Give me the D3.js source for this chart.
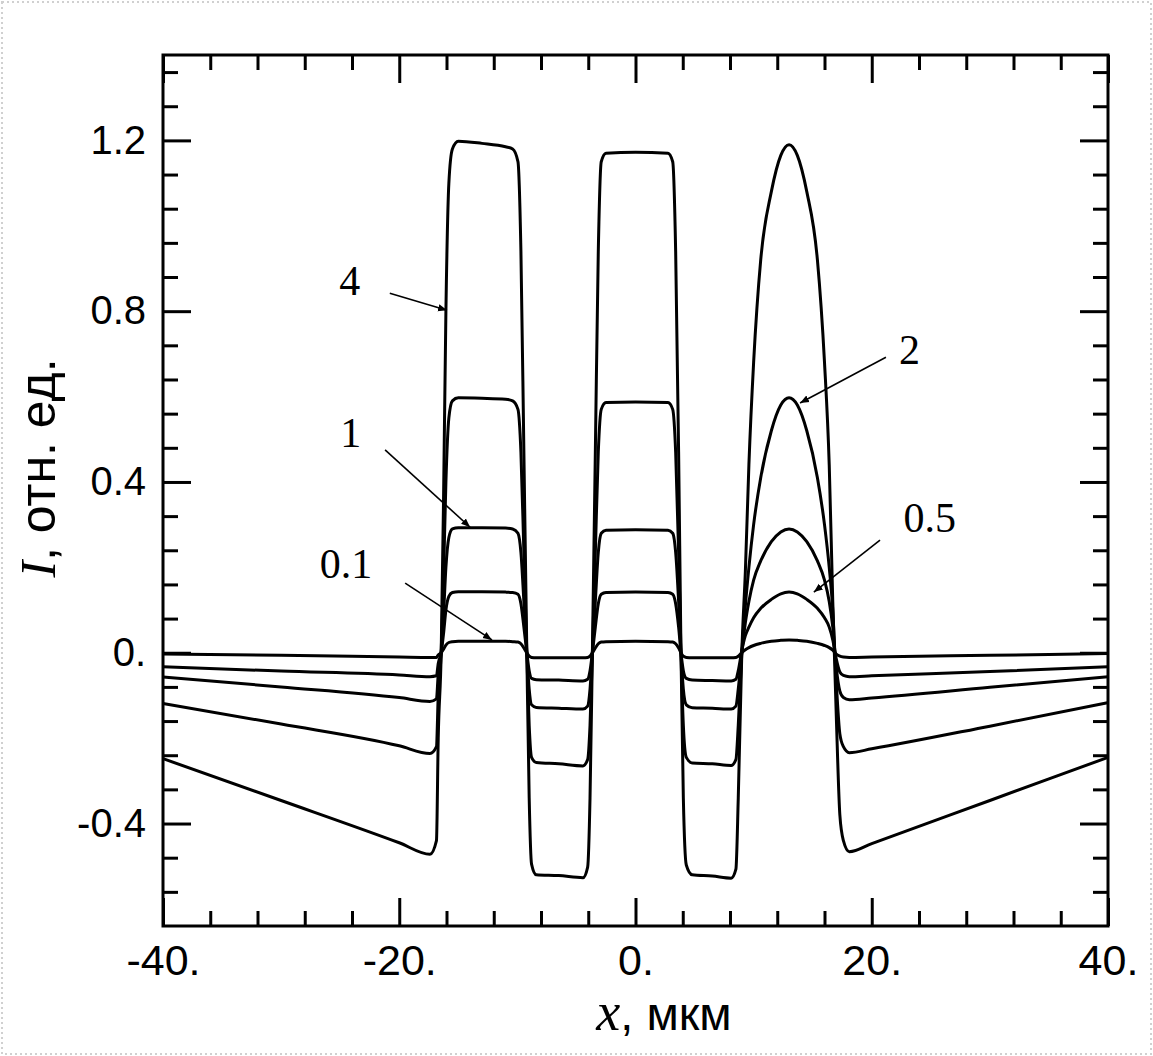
<!DOCTYPE html>
<html>
<head>
<meta charset="utf-8">
<script src="https://cdn.jsdelivr.net/npm/d3@7"></script>
<style>
  body { margin: 0; background: #fff; }
  svg { display: block; }
</style>
</head>
<body>
<div id="chart"></div>
<script>
// x positions (мкм), shared by all curves
var xs = [-40, -30, -20, -17.4, -16.85, -16.7, -16.45, -16.25, -16.05, -15.8, -15.5, -15.0, -13.0, -11.0, -10.4,
  -9.95, -9.7, -9.45, -9.2, -9.0, -8.8, -8.4, -6.5, -4.45, -4.05, -3.85, -3.65, -3.4, -3.15, -2.9, -2.5, 0,
  2.75, 3.15, 3.4, 3.65, 3.85, 4.05, 4.3, 4.8, 6.5, 8.1, 8.5, 8.7, 9.0, 9.3, 9.6, 10.0, 10.6, 11.5, 12.3, 13.0,
  13.7, 14.5, 15.4, 16.0, 16.4, 16.7, 17.0, 17.3, 17.6, 18.1, 20, 30, 40];

// intensity
var curve4 = [-0.248, -0.346, -0.445, -0.472, -0.44, -0.2, 0.0, 0.36, 0.8, 1.1, 1.18, 1.198, 1.193, 1.185, 1.18,
  1.15, 0.94, 0.47, 0.0, -0.34, -0.495, -0.52, -0.522, -0.527, -0.502, -0.34, 0.0, 0.47, 0.94, 1.15, 1.17, 1.172,
  1.17, 1.15, 0.94, 0.47, 0.0, -0.34, -0.497, -0.52, -0.523, -0.528, -0.507, -0.34, 0.0, 0.19, 0.44, 0.68, 0.92, 1.08, 1.165, 1.19,
  1.165, 1.08, 0.92, 0.68, 0.44, 0.12, -0.15, -0.38, -0.44, -0.466, -0.447, -0.346, -0.245];
var curve2 = [-0.119, -0.167, -0.218, -0.236, -0.22, -0.1, 0.0, 0.18, 0.4, 0.55, 0.59, 0.597, 0.596, 0.594, 0.59,
  0.57, 0.47, 0.235, 0.0, -0.17, -0.245, -0.257, -0.26, -0.265, -0.25, -0.17, 0.0, 0.235, 0.47, 0.57, 0.586, 0.587,
  0.586, 0.57, 0.47, 0.235, 0.0, -0.17, -0.245, -0.258, -0.26, -0.264, -0.25, -0.17, 0.0, 0.11, 0.2, 0.3, 0.41, 0.52, 0.58, 0.597,
  0.58, 0.52, 0.41, 0.3, 0.2, 0.1, -0.07, -0.19, -0.22, -0.234, -0.225, -0.172, -0.117];
var curve1 = [-0.057, -0.08, -0.105, -0.114, -0.108, -0.05, 0.0, 0.09, 0.2, 0.27, 0.29, 0.293, 0.293, 0.292, 0.29,
  0.28, 0.235, 0.12, 0.0, -0.085, -0.122, -0.128, -0.13, -0.132, -0.125, -0.085, 0.0, 0.12, 0.235, 0.28, 0.287, 0.288,
  0.287, 0.28, 0.235, 0.12, 0.0, -0.085, -0.122, -0.129, -0.13, -0.132, -0.125, -0.085, 0.0, 0.07, 0.12, 0.17, 0.215, 0.26, 0.283, 0.29,
  0.283, 0.26, 0.215, 0.17, 0.12, 0.06, -0.035, -0.09, -0.105, -0.11, -0.106, -0.081, -0.056];
var curve05 = [-0.033, -0.043, -0.052, -0.056, -0.054, -0.025, 0.0, 0.045, 0.1, 0.132, 0.141, 0.143, 0.143, 0.142, 0.141,
  0.137, 0.115, 0.06, 0.0, -0.042, -0.06, -0.063, -0.064, -0.066, -0.062, -0.042, 0.0, 0.06, 0.115, 0.137, 0.141, 0.142,
  0.141, 0.137, 0.115, 0.06, 0.0, -0.042, -0.06, -0.064, -0.065, -0.066, -0.062, -0.042, 0.005, 0.04, 0.06, 0.082, 0.104, 0.125, 0.138, 0.142,
  0.138, 0.125, 0.104, 0.082, 0.06, 0.03, -0.015, -0.045, -0.053, -0.056, -0.054, -0.044, -0.033];
var curve01 = [-0.003, -0.006, -0.01, -0.011, -0.011, -0.005, 0.0, 0.008, 0.018, 0.024, 0.026, 0.027, 0.027, 0.027, 0.026,
  0.025, 0.021, 0.011, 0.0, -0.008, -0.011, -0.012, -0.012, -0.012, -0.011, -0.008, 0.0, 0.011, 0.021, 0.025, 0.026, 0.027,
  0.026, 0.025, 0.021, 0.011, 0.0, -0.008, -0.011, -0.012, -0.012, -0.012, -0.011, -0.008, 0.0, 0.007, 0.012, 0.017, 0.022, 0.027, 0.029, 0.03,
  0.029, 0.027, 0.022, 0.017, 0.012, 0.006, -0.003, -0.008, -0.01, -0.011, -0.01, -0.006, -0.002];

var curves = [curve4, curve2, curve1, curve05, curve01];

var xMajor = [-40, -20, 0, 20, 40];
var xTickLabels = ["-40.", "-20.", "0.", "20.", "40."];
var yMajor = [-0.4, 0, 0.4, 0.8, 1.2];
var yTickLabels = ["-0.4", "0.", "0.4", "0.8", "1.2"];

// curve labels: text position and arrow (from -> to), in data units
var noteText = ["4", "1", "0.1", "2", "0.5"];
var noteAt = [[-24.2, 0.838], [-24.1, 0.482], [-24.5, 0.175], [23.2, 0.676], [24.9, 0.283]];
var arrowFrom = [[-20.8, 0.842], [-21.2, 0.475], [-19.5, 0.163], [21.2, 0.692], [20.7, 0.264]];
var arrowTo = [[-15.96, 0.802], [-14.0, 0.294], [-12.15, 0.03], [13.93, 0.585], [15.1, 0.142]];

var W = 1153, H = 1056;
var pL = 163, pR = 1108, pT = 55, pB = 926;

var svg = d3.select("#chart").append("svg")
  .attr("width", W)
  .attr("height", H);

// faint dotted border of the scan
svg.append("rect")
  .attr("x", 2).attr("y", 2).attr("width", W - 4).attr("height", H - 4)
  .attr("fill", "none").attr("stroke", "#d0d0d0").attr("stroke-width", 2)
  .attr("stroke-dasharray", "2,3");

var x = d3.scaleLinear().domain([-40, 40]).range([pL, pR]);
var y = d3.scaleLinear().domain([-0.64, 1.4]).range([pB, pT]);

var xMinor = d3.range(-36, 40, 4).filter(function(v) { return v % 20 !== 0; });
var yMinor = d3.range(-7, 18).map(function(i) { return +(i * 0.08).toFixed(2); })
  .filter(function(v) { return Math.abs(v / 0.4 - Math.round(v / 0.4)) > 1e-6; });

var tickFont = "'Liberation Sans', Arial, Helvetica, sans-serif";

function styleAxis(g) {
  g.select(".domain").remove();
  g.selectAll("line").attr("stroke", "#000").attr("stroke-width", 3);
  g.selectAll("text").attr("fill", "#000").attr("font-family", tickFont).attr("font-size", 40);
}

// minor ticks on all four sides
svg.append("g").attr("transform", "translate(0," + pB + ")")
  .call(d3.axisBottom(x).tickValues(xMinor).tickSize(-15).tickFormat("")).call(styleAxis);
svg.append("g").attr("transform", "translate(0," + pT + ")")
  .call(d3.axisTop(x).tickValues(xMinor).tickSize(-15).tickFormat("")).call(styleAxis);
svg.append("g").attr("transform", "translate(" + pL + ",0)")
  .call(d3.axisLeft(y).tickValues(yMinor).tickSize(-15).tickFormat("")).call(styleAxis);
svg.append("g").attr("transform", "translate(" + pR + ",0)")
  .call(d3.axisRight(y).tickValues(yMinor).tickSize(-15).tickFormat("")).call(styleAxis);

// major ticks with labels
svg.append("g").attr("transform", "translate(0," + pB + ")")
  .call(d3.axisBottom(x).tickValues(xMajor).tickSize(-28).tickPadding(18)
    .tickFormat(function(d, i) { return xTickLabels[i]; }))
  .call(styleAxis)
  .selectAll("text").attr("font-size", 43);
svg.append("g").attr("transform", "translate(0," + pT + ")")
  .call(d3.axisTop(x).tickValues(xMajor).tickSize(-28).tickFormat("")).call(styleAxis);
svg.append("g").attr("transform", "translate(" + pL + ",0)")
  .call(d3.axisLeft(y).tickValues(yMajor).tickSize(-28).tickPadding(17)
    .tickFormat(function(d, i) { return yTickLabels[i]; }))
  .call(styleAxis);
svg.append("g").attr("transform", "translate(" + pR + ",0)")
  .call(d3.axisRight(y).tickValues(yMajor).tickSize(-28).tickFormat("")).call(styleAxis);

// frame
svg.append("rect")
  .attr("x", pL).attr("y", pT)
  .attr("width", pR - pL).attr("height", pB - pT)
  .attr("fill", "none").attr("stroke", "#000").attr("stroke-width", 3);

// curves
var line = d3.line()
  .x(function(d) { return x(d[0]); })
  .y(function(d) { return y(d[1]); })
  .curve(d3.curveMonotoneX);

svg.append("g").selectAll("path.curve")
  .data(curves)
  .enter()
  .append("path")
  .attr("class", "curve")
  .attr("d", function(vals) { return line(xs.map(function(v, i) { return [v, vals[i]]; })); })
  .attr("fill", "none")
  .attr("stroke", "#000")
  .attr("stroke-width", 3)
  .attr("stroke-linejoin", "round");

// arrows
svg.append("defs").append("marker")
  .attr("id", "head")
  .attr("viewBox", "0 0 10 10")
  .attr("refX", 10).attr("refY", 5)
  .attr("markerWidth", 9).attr("markerHeight", 9)
  .attr("markerUnits", "userSpaceOnUse")
  .attr("orient", "auto")
  .append("path")
  .attr("d", "M0,1 L10,5 L0,9 Z")
  .attr("fill", "#000");

svg.append("g").selectAll("line")
  .data(noteText)
  .enter()
  .append("line")
  .attr("x1", function(d, i) { return x(arrowFrom[i][0]); })
  .attr("y1", function(d, i) { return y(arrowFrom[i][1]); })
  .attr("x2", function(d, i) { return x(arrowTo[i][0]); })
  .attr("y2", function(d, i) { return y(arrowTo[i][1]); })
  .attr("stroke", "#000")
  .attr("stroke-width", 1.6)
  .attr("marker-end", "url(#head)");

svg.append("g").selectAll("text")
  .data(noteText)
  .enter()
  .append("text")
  .text(function(d) { return d; })
  .attr("x", function(d, i) { return x(noteAt[i][0]); })
  .attr("y", function(d, i) { return y(noteAt[i][1]); })
  .attr("text-anchor", "middle")
  .attr("font-family", "'Liberation Serif', 'Times New Roman', serif")
  .attr("font-size", 42)
  .attr("fill", "#000");

// axis titles
var ylab = svg.append("text")
  .attr("transform", "translate(55,468) rotate(-90)")
  .attr("text-anchor", "middle")
  .attr("font-size", 50)
  .attr("fill", "#000");
ylab.append("tspan").attr("font-family", "'Liberation Serif', serif").attr("font-style", "italic").text("I");
ylab.append("tspan").attr("font-family", tickFont).text(", отн. ед.");

var xlab = svg.append("text")
  .attr("x", 664).attr("y", 1030)
  .attr("text-anchor", "middle")
  .attr("font-size", 47)
  .attr("fill", "#000");
xlab.append("tspan").attr("font-family", "'Liberation Serif', serif").attr("font-style", "italic").attr("font-size", 54).text("x");
xlab.append("tspan").attr("font-family", tickFont).text(", мкм");
</script>
</body>
</html>
